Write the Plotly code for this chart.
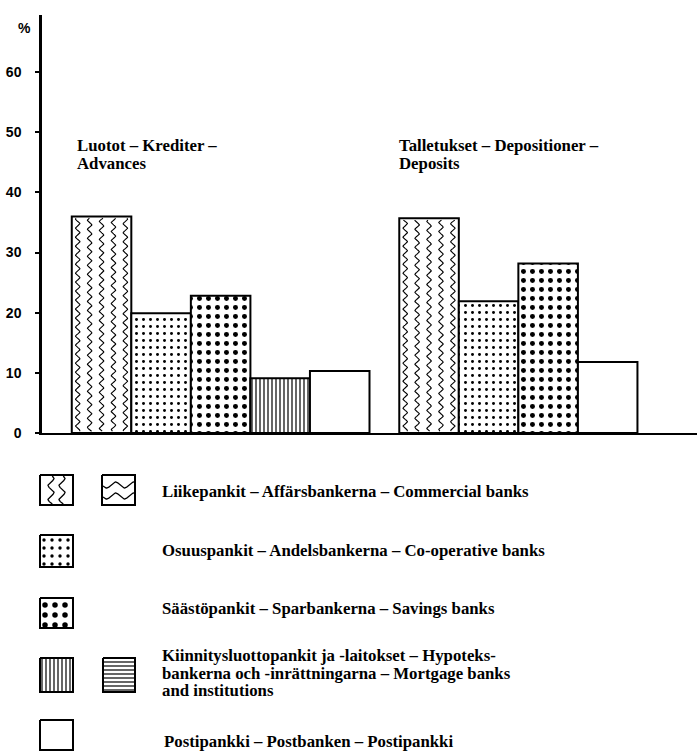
import numpy as np
import plotly.graph_objects as go

# ---- data (percent shares) ----
adv_labels = ["Commercial", "Co-operative", "Savings", "Mortgage", "Postipankki"]
adv_values = [36.0, 19.9, 22.8, 9.1, 10.3]
dep_labels = ["Commercial", "Co-operative", "Savings", "Postipankki"]
dep_values = [35.7, 21.9, 28.2, 11.8]
y_ticks = [0, 10, 20, 30, 40, 50, 60]

W, H = 697, 753
ADV_START, DEP_START = 1.0, 6.5
adv_x = [ADV_START + i for i in range(len(adv_values))]
dep_x = [DEP_START + i for i in range(len(dep_values))]

SERIF = "Liberation Serif, Times New Roman, serif"
SANS = "Liberation Sans, Arial, sans-serif"

styles = {
    "Commercial": dict(shape="", size=8, solidity=0.2),
    "Co-operative": dict(shape=".", size=7, solidity=0.14),
    "Savings": dict(shape=".", size=9, solidity=0.24),
    "Mortgage": dict(shape="|", size=4, solidity=0.3),
    "Postipankki": dict(shape="", size=8, solidity=0.2),
}

fig = go.Figure()

def add_bars(xs, vals, labels):
    for x, v, lab in zip(xs, vals, labels):
        st = styles[lab]
        fig.add_trace(go.Bar(
            x=[x], y=[v], width=1.0, xaxis="x", yaxis="y",
            marker=dict(color="white", line=dict(color="black", width=2),
                        pattern=dict(shape=st["shape"], size=st["size"],
                                     solidity=st["solidity"], fgcolor="black",
                                     fgopacity=1, bgcolor="white",
                                     fillmode="overlay")),
            showlegend=False, hoverinfo="skip"))

add_bars(adv_x, adv_values, adv_labels)
add_bars(dep_x, dep_values, dep_labels)

# wavy lines inside the commercial-bank bars
ymax = 69.5
px_x = (W - 42) / 11.0
px_y = (433 - 15) / ymax
amp = 2.2 / px_x
period = 9.0 / px_y
for x, v in [(adv_x[0], adv_values[0]), (dep_x[0], dep_values[0])]:
    ys = np.arange(0.3, v - 0.3, 0.06)
    for k in range(5):
        x0 = x - 0.5 + (k + 0.5) / 5
        xs = x0 + amp * np.sin(2 * np.pi * ys / period + k * 0.8)
        fig.add_trace(go.Scatter(x=xs, y=ys, mode="lines", xaxis="x", yaxis="y",
                                 line=dict(color="black", width=1.1),
                                 showlegend=False, hoverinfo="skip"))

# ---- legend swatches (pixel coordinates on overlay axes) ----
def box(x0, y0, x1, y1, shape="", size=8, solidity=0.2):
    fig.add_trace(go.Scatter(
        x=[x0, x1, x1, x0, x0], y=[y0, y0, y1, y1, y0], mode="lines",
        fill="toself", fillcolor="white", xaxis="x2", yaxis="y2",
        fillpattern=dict(shape=shape, size=size, solidity=solidity,
                         fgcolor="black", fgopacity=1, bgcolor="white",
                         fillmode="overlay"),
        line=dict(color="black", width=2), showlegend=False, hoverinfo="skip"))

def wave(x0, y0, x1, y1, vertical, positions):
    for p in positions:
        if vertical:
            t = np.linspace(y0 + 1, y1 - 1, 60)
            fig.add_trace(go.Scatter(x=p + 3 * np.sin(2 * np.pi * (t - y0) / 14), y=t,
                                     mode="lines", xaxis="x2", yaxis="y2",
                                     line=dict(color="black", width=1.3),
                                     showlegend=False, hoverinfo="skip"))
        else:
            t = np.linspace(x0 + 1, x1 - 1, 60)
            fig.add_trace(go.Scatter(x=t, y=p + 3 * np.sin(2 * np.pi * (t - x0) / 18),
                                     mode="lines", xaxis="x2", yaxis="y2",
                                     line=dict(color="black", width=1.3),
                                     showlegend=False, hoverinfo="skip"))

box(40, 475, 73, 505); wave(40, 475, 73, 505, True, [51, 62])
box(102, 475, 135, 505); wave(102, 475, 135, 505, False, [485, 496])
box(40, 535, 73, 567, ".", 8, 0.14)
box(40, 598, 73, 628, ".", 10, 0.24)
box(40, 658, 73, 692, "|", 4, 0.3)
box(103, 658, 135, 692, "-", 4, 0.3)
box(40, 720, 73, 750)

text_lines = [
    ("Liikepankit – Affärsbankerna – Commercial banks", 160, 491),
    ("Osuuspankit – Andelsbankerna – Co-operative banks", 160, 550),
    ("Säästöpankit – Sparbankerna – Savings banks", 160, 608),
    ("Kiinnitysluottopankit ja -laitokset – Hypoteks-", 160, 655),
    ("bankerna och -inrättningarna – Mortgage banks", 160, 673),
    ("and institutions", 160, 690),
    ("Postipankki – Postbanken – Postipankki", 162, 741),
    ("Luotot – Krediter –", 75, 145),
    ("Advances", 75, 163),
    ("Talletukset – Depositioner –", 397, 145),
    ("Deposits", 397, 163),
]
for txt, x, y in text_lines:
    fig.add_annotation(text="<b>" + txt + "</b>", x=x / W, y=1 - y / H,
                       xref="paper", yref="paper", xanchor="left", yanchor="middle",
                       align="left", showarrow=False,
                       font=dict(family=SERIF, size=16.8, color="black"))

fig.add_annotation(text="<b>%</b>", x=16 / W, y=1 - 18 / H, xref="paper", yref="paper",
                   showarrow=False, font=dict(family=SANS, size=14, color="black"))

fig.update_layout(
    width=W, height=H, margin=dict(l=0, r=0, t=0, b=0),
    paper_bgcolor="white", plot_bgcolor="rgba(0,0,0,0)",
    barmode="overlay", showlegend=False,
    xaxis=dict(domain=[42 / W, 1], range=[0, 11.0], showgrid=False, zeroline=False,
               showline=True, linecolor="black", linewidth=2, showticklabels=False,
               ticks="", fixedrange=True, anchor="y"),
    yaxis=dict(domain=[(H - 433) / H, (H - 15) / H], range=[0, ymax], showgrid=False,
               zeroline=False, showline=True, linecolor="black", linewidth=2.5,
               tickvals=y_ticks, ticks="outside", ticklen=4, tickwidth=2,
               tickcolor="black", ticklabelstandoff=11, automargin=False,
               tickfont=dict(family=SANS, size=14, color="black", weight="bold"),
               fixedrange=True, anchor="x"),
    xaxis2=dict(domain=[0, 1], range=[0, W], visible=False, anchor="y2", fixedrange=True),
    yaxis2=dict(domain=[0, 1], range=[H, 0], visible=False, anchor="x2", fixedrange=True),
)

fig.write_html("out.html", config={"displayModeBar": False},
               post_script="document.body.style.margin='0';")
